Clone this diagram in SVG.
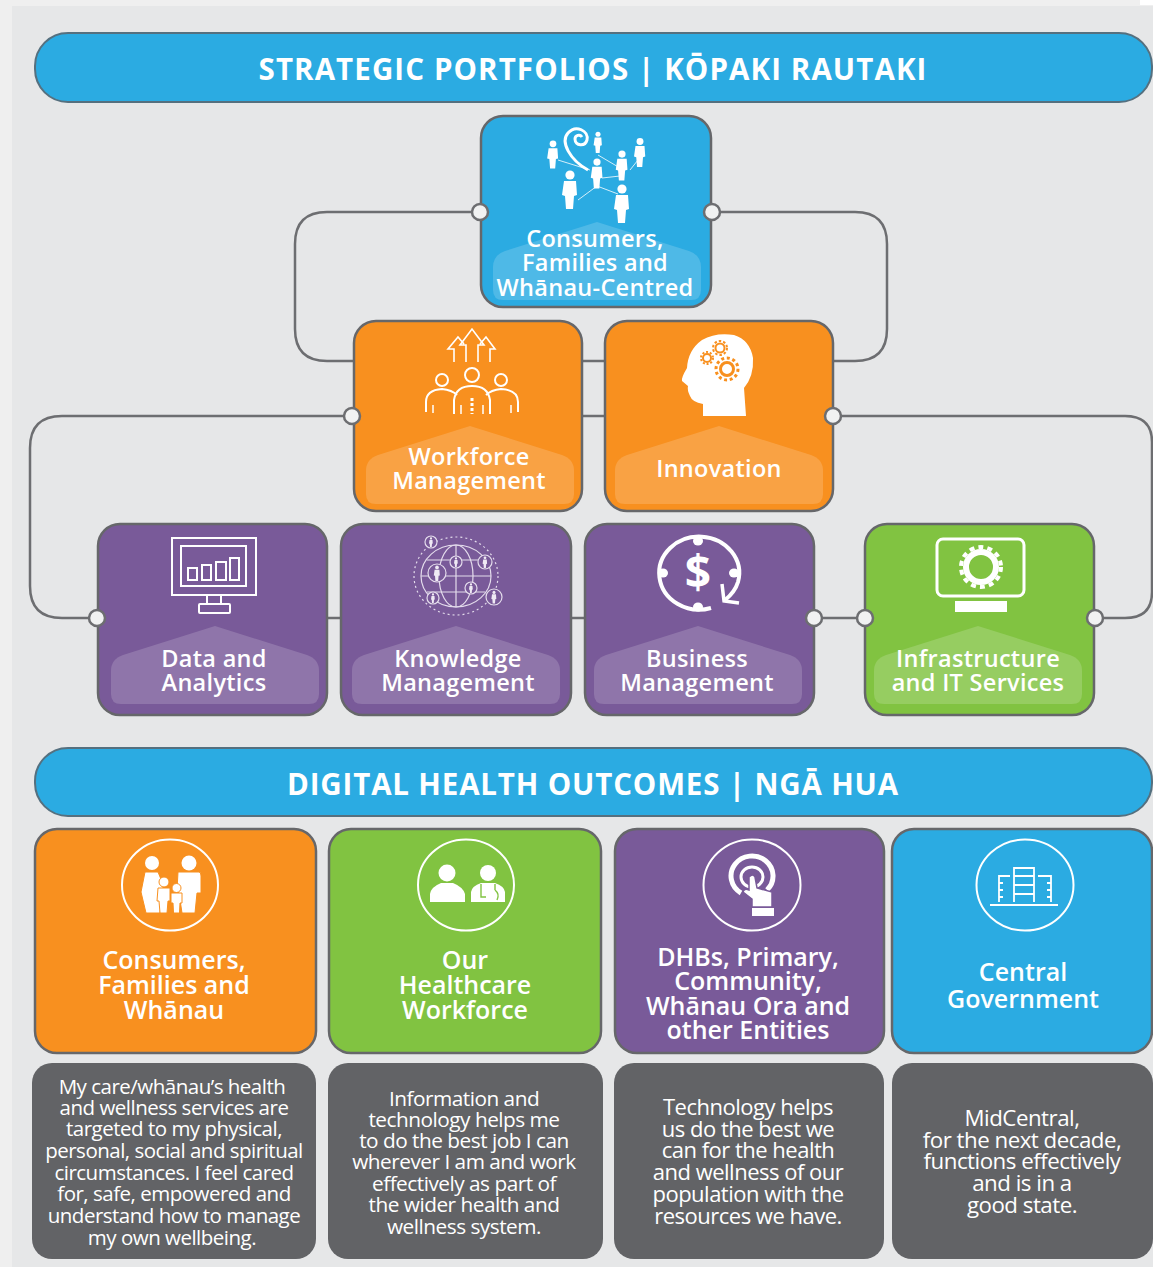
<svg xmlns="http://www.w3.org/2000/svg" width="1153" height="1267" viewBox="0 0 1153 1267">
<style>
text{font-family:"Open Sans","Noto Sans","Liberation Sans",sans-serif;font-weight:600;fill:#fff;text-anchor:middle}
.banner{stroke:#55707f;stroke-width:2;fill:#2babe2}
.title{font-size:29.5px;font-weight:700;letter-spacing:1.1px}
.card{stroke:#66676a;stroke-width:2.5}
.blue{fill:#2babe2}.orange{fill:#f8901f}.purple{fill:#795a99}.green{fill:#81c341}
.tab{fill:#fff;fill-opacity:.17}
.lbl{font-size:23.5px;letter-spacing:.3px}
.head{font-size:25px}
.note{fill:#626366}
.body{font-size:20.5px;font-weight:400;letter-spacing:-.5px}
.b21{font-size:20.8px}
.b22{font-size:22px}
.b23{font-size:22.3px}
.line{fill:none;stroke:#6d6e71;stroke-width:2.5}
.port{fill:#f1f2f2;stroke:#6d6e71;stroke-width:2.5}
.ic{fill:none;stroke:#fff;stroke-width:2}
.icf{fill:#fff}
.ring{fill:none;stroke:#fff;stroke-width:2}
.kn{fill:#795a99;stroke:#e4dcec;stroke-width:1.2}
.kp{fill:#efeaf4}
</style>
<defs>
<g id="person"><circle cx="0" cy="-14" r="4.6"/><path d="M-6-8h12l1 14-3 1-1 13h-7l-1-13-3-1z"/></g>
<path id="tabshape" d="M0 0 L-92 29 Q-104 33-104 45 V68 Q-104 78-94 78 H94 Q104 78 104 68 V45 Q104 33 92 29Z"/>
</defs>
<rect width="1153" height="1267" fill="#e6e7e8"/>
<rect width="12" height="1267" fill="#efefef"/>
<rect width="1153" height="6" fill="#efefef"/>
<rect x="1140" width="13" height="5" fill="#fff"/>

<g id="connectors">
<path class="line" d="M480 212H327Q295 212 295 244V329Q295 361 327 361H354"/>
<path class="line" d="M712 212H855Q887 212 887 244V329Q887 361 855 361H834"/>
<path class="line" d="M583 361H605"/>
<path class="line" d="M352 416H62Q30 416 30 448V586Q30 618 62 618H97"/>
<path class="line" d="M833 416H1125Q1152 416 1152 442V592Q1152 618 1125 618H1095"/>
<path class="line" d="M583 416H605"/>
<path class="line" d="M328 618H341"/>
<path class="line" d="M572 618H585"/>
<path class="line" d="M815 618H865"/>
</g>

<g id="banner-portfolios">
<rect class="banner" x="35" y="33" width="1117" height="69" rx="33"/>
<text class="title" x="593" y="80">STRATEGIC PORTFOLIOS | KŌPAKI RAUTAKI</text>
</g>

<g id="node-consumers">
<rect class="card blue" x="481" y="116" width="230" height="191" rx="22"/>
<use href="#tabshape" x="597" y="222" class="tab"/>
<g class="icf">
<use href="#person" transform="translate(553 154) scale(.73)"/><use href="#person" transform="translate(598 142) scale(.55)"/>
<use href="#person" transform="translate(640 152) scale(.75)"/><use href="#person" transform="translate(622 165) scale(.78)"/>
<use href="#person" transform="translate(597 173) scale(.78)"/><use href="#person" transform="translate(570 189)"/>
<use href="#person" transform="translate(622 203)"/>
</g>
<path d="M588 170C570 160 560 142 568 133C576 124 589 131 587 140C585 147 575 146 575 139C575 135 580 134 582 137" fill="none" stroke="#fff" stroke-width="3"/>
<path d="M558 160L590 170M598 155L620 168M630 170L638 160M578 200L597 186L618 194M602 178L620 176" fill="none" stroke="#fff" stroke-width=".8"/>
<text class="lbl"><tspan x="595" y="247">Consumers,</tspan><tspan x="595" y="271">Families and</tspan><tspan x="595" y="296">Whānau-Centred</tspan></text>
</g>

<g id="node-workforce">
<rect class="card orange" x="354" y="321" width="228" height="190" rx="22"/>
<use href="#tabshape" x="470" y="426" class="tab"/>
<g class="ic">
<path d="M454 362V349H448L458 337L464 344M490 362V349H495L486 337L480 344M466 362V345H460L472 329L484 345H478V362" stroke-width="1.6"/>
<circle cx="442" cy="380" r="6"/><circle cx="472" cy="375" r="7"/><circle cx="501" cy="380" r="6"/>
<path d="M426 412V402Q426 390 442 389Q452 390 457 395M518 412V402Q518 390 501 389Q491 390 486 395M454 414V400Q456 386 472 386Q488 386 490 400V414"/>
<path d="M472 398V414" stroke-dasharray="3 2" stroke-width="3"/>
<path d="M433 405V413M511 405V413M461 405V414M483 405V414" stroke-width="1.5"/>
</g>
<text class="lbl"><tspan x="469" y="465">Workforce</tspan><tspan x="469" y="489">Management</tspan></text>
</g>

<g id="node-innovation">
<rect class="card orange" x="605" y="321" width="228" height="190" rx="22"/>
<use href="#tabshape" x="719" y="426" class="tab"/>
<path class="icf" d="M703 416V404Q692 402 690 396Q687 390 688 386L682 381Q681 378 687 368Q688 350 702 340Q716 332 734 335Q750 340 753 358Q754 376 744 388L746 416Z"/>
<g fill="none" stroke="#f8901f">
<circle cx="720" cy="348" r="4.5" stroke-width="2"/><circle cx="720" cy="348" r="7" stroke-width="2" stroke-dasharray="2.5 2"/>
<circle cx="707" cy="358" r="4" stroke-width="2"/><circle cx="707" cy="358" r="6" stroke-width="2" stroke-dasharray="2 1.8"/>
<circle cx="727" cy="369" r="6.5" stroke-width="3"/><circle cx="727" cy="369" r="11" stroke-width="3" stroke-dasharray="3 2.7"/>
</g>
<text class="lbl" x="719" y="477">Innovation</text>
</g>

<g id="node-data">
<rect class="card purple" x="98" y="524" width="229" height="191" rx="22"/>
<use href="#tabshape" x="215" y="626" class="tab"/>
<g class="ic">
<rect x="172" y="538" width="84" height="57"/>
<rect x="181" y="546" width="65" height="40"/>
<rect x="188" y="568" width="9" height="12"/><rect x="202" y="565" width="9" height="15"/><rect x="216" y="562" width="10" height="18"/><rect x="230" y="558" width="9" height="22"/>
<path d="M207 595V604M221 595V604"/><rect x="199" y="604" width="31" height="9" rx="1"/>
</g>
<text class="lbl"><tspan x="214" y="667">Data and</tspan><tspan x="214" y="691">Analytics</tspan></text>
</g>

<g id="node-knowledge">
<rect class="card purple" x="341" y="524" width="230" height="191" rx="22"/>
<use href="#tabshape" x="456" y="626" class="tab"/>
<g fill="none" stroke="#e4dcec" stroke-width="1.2">
<ellipse cx="456" cy="576" rx="35" ry="31"/><ellipse cx="456" cy="576" rx="17" ry="31"/><path d="M421 576H491M427 560H485M427 592H485M456 545V607"/>
<ellipse cx="456" cy="576" rx="42" ry="39" stroke-dasharray="2 3"/>
</g>
<circle class="kn" cx="431" cy="542" r="6"/><circle class="kn" cx="456" cy="562" r="6"/><circle class="kn" cx="485" cy="562" r="7"/><circle class="kn" cx="437" cy="573" r="9"/><circle class="kn" cx="471" cy="588" r="6"/><circle class="kn" cx="433" cy="598" r="6"/><circle class="kn" cx="494" cy="597" r="8"/>
<g class="kp">
<use href="#person" transform="translate(431 542) scale(.25)"/><use href="#person" transform="translate(456 562) scale(.25)"/><use href="#person" transform="translate(485 562) scale(.3)"/><use href="#person" transform="translate(437 573) scale(.4)"/><use href="#person" transform="translate(471 588) scale(.25)"/><use href="#person" transform="translate(433 598) scale(.25)"/><use href="#person" transform="translate(494 597) scale(.33)"/>
</g>
<text class="lbl"><tspan x="458" y="667">Knowledge</tspan><tspan x="458" y="691">Management</tspan></text>
</g>

<g id="node-business">
<rect class="card purple" x="585" y="524" width="229" height="191" rx="22"/>
<use href="#tabshape" x="698" y="626" class="tab"/>
<path d="M711 608A40 36.5 0 1 1 738 582Q735 592 725 600" fill="none" stroke="#fff" stroke-width="4"/>
<path d="M722 584L724 601L739 603" fill="none" stroke="#fff" stroke-width="3.5"/>
<g class="icf"><ellipse cx="698" cy="541" rx="5" ry="4.5"/><ellipse cx="663" cy="573" rx="5" ry="4.5"/><ellipse cx="734" cy="573" rx="5" ry="4.5"/><ellipse cx="698" cy="607" rx="5" ry="4.5"/></g>
<text x="698" y="589" style="font-size:46px;font-weight:700">$</text>
<text class="lbl"><tspan x="697" y="667">Business</tspan><tspan x="697" y="691">Management</tspan></text>
</g>

<g id="node-infrastructure">
<rect class="card green" x="865" y="524" width="229" height="191" rx="22"/>
<use href="#tabshape" x="978" y="626" class="tab"/>
<rect x="937" y="539" width="87" height="57" rx="6" fill="none" stroke="#fff" stroke-width="3"/>
<rect x="955" y="601" width="52" height="11" fill="#fff"/>
<circle cx="981" cy="567" r="15" fill="none" stroke="#fff" stroke-width="6"/>
<circle cx="981" cy="567" r="20" fill="none" stroke="#fff" stroke-width="4" stroke-dasharray="5 4.1"/>
<text class="lbl"><tspan x="978" y="667">Infrastructure</tspan><tspan x="978" y="691">and IT Services</tspan></text>
</g>

<g id="ports">
<circle class="port" cx="480" cy="212" r="8"/><circle class="port" cx="712" cy="212" r="8"/>
<circle class="port" cx="352" cy="416" r="8"/><circle class="port" cx="833" cy="416" r="8"/>
<circle class="port" cx="97" cy="618" r="8"/><circle class="port" cx="814" cy="618" r="8"/>
<circle class="port" cx="865" cy="618" r="8"/><circle class="port" cx="1095" cy="618" r="8"/>
</g>

<g id="banner-outcomes">
<rect class="banner" x="35" y="748" width="1117" height="68" rx="33"/>
<text class="title" x="593" y="795" style="letter-spacing:.85px">DIGITAL HEALTH OUTCOMES | NGĀ HUA</text>
</g>

<g id="outcome-consumers">
<rect class="card orange" x="35" y="829" width="281" height="224" rx="22"/>
<ellipse class="ring" cx="170" cy="885" rx="48" ry="45.5"/>
<g class="icf" stroke="#f8901f" stroke-width="1">
<circle cx="152" cy="863" r="7" stroke="none"/><path d="M145 872H158L163 884V893L160 913H146L141 892Z"/>
<circle cx="189" cy="863" r="7.5" stroke="none"/><path d="M178 872H199Q201 872 201 876V893H197L195 913H182L179 893L177 890Z"/>
<circle cx="164" cy="882" r="5"/><path d="M158 888H170V901H168L167 913H160L159 901H157Z"/>
<circle cx="176.500" cy="888" r="4.500"/><path d="M171 893H182V903H180L179.500 913H173.500L173 903H171Z"/>
</g>
<text class="head"><tspan x="174" y="969">Consumers,</tspan><tspan x="174" y="994">Families and</tspan><tspan x="174" y="1019">Whānau</tspan></text>
</g>

<g id="outcome-workforce">
<rect class="card green" x="329" y="829" width="272" height="224" rx="22"/>
<ellipse class="ring" cx="466" cy="885" rx="48" ry="45.5"/>
<g class="icf">
<circle cx="447" cy="873" r="8.500"/><path d="M430 902V894Q431 887 441 883H453Q463 887 465 894V902Z"/>
<circle cx="488" cy="873" r="8"/><path d="M471 902V892Q472 886 481 883H495Q504 886 505 892V902Z"/>
</g>
<path d="M481 884V897H486M495 884V890M495 890Q500 894 497 900" stroke="#81c341" stroke-width="1.400" fill="none"/>
<text class="head"><tspan x="465" y="969">Our</tspan><tspan x="465" y="994">Healthcare</tspan><tspan x="465" y="1019">Workforce</tspan></text>
</g>

<g id="outcome-dhbs">
<rect class="card purple" x="615" y="829" width="269" height="224" rx="22"/>
<ellipse class="ring" cx="752" cy="885" rx="48.500" ry="45.500"/>
<path d="M741 893A21 20 0 1 1 767 890" fill="none" stroke="#fff" stroke-width="5"/>
<ellipse cx="752" cy="877" rx="11" ry="10" fill="none" stroke="#fff" stroke-width="3"/>
<path class="icf" stroke="#795a99" stroke-width="1.500" d="M749 877Q753 873 755 877L757 888L772 892V907H752V899L743 892Q744 888 749 890Z"/>
<rect x="752" y="908" width="22" height="8" fill="#fff"/>
<text class="head"><tspan x="748" y="966">DHBs, Primary,</tspan><tspan x="748" y="990">Community,</tspan><tspan x="748" y="1015">Whānau Ora and</tspan><tspan x="748" y="1039">other Entities</tspan></text>
</g>

<g id="outcome-government">
<rect class="card blue" x="892" y="829" width="260" height="224" rx="22"/>
<ellipse class="ring" cx="1025" cy="885" rx="48.500" ry="45.500"/>
<g fill="none" stroke="#fff" stroke-width="1.800">
<path d="M1014 902V868H1034V902M1014 876H1034M1014 885H1034M1014 894H1034"/>
<path d="M1010 876H999V902M1003 883H999M1003 890H999M1003 897H999"/>
<path d="M1038 876H1051V902M1047 883H1051M1047 890H1051M1047 897H1051"/>
<path d="M990 905H1058"/>
</g>
<text class="head"><tspan x="1023" y="981">Central</tspan><tspan x="1023" y="1008">Government</tspan></text>
</g>

<g id="note-consumers">
<rect class="note" x="32" y="1063" width="284" height="196" rx="20"/>
<text class="body"><tspan x="172" y="1094">My care/whānau’s health</tspan><tspan x="174" y="1115">and wellness services are</tspan><tspan x="174" y="1136">targeted to my physical,</tspan><tspan x="174" y="1158">personal, social and spiritual</tspan><tspan x="174" y="1180">circumstances. I feel cared</tspan><tspan x="174" y="1201">for, safe, empowered and</tspan><tspan x="174" y="1223">understand how to manage</tspan><tspan x="172" y="1245">my own wellbeing.</tspan></text>
</g>

<g id="note-workforce">
<rect class="note" x="328" y="1063" width="275" height="196" rx="20"/>
<text class="body b21"><tspan x="464" y="1106">Information and</tspan><tspan x="464" y="1127">technology helps me</tspan><tspan x="464" y="1148">to do the best job I can</tspan><tspan x="464" y="1169">wherever I am and work</tspan><tspan x="464" y="1191">effectively as part of</tspan><tspan x="464" y="1212">the wider health and</tspan><tspan x="464" y="1234">wellness system.</tspan></text>
</g>

<g id="note-dhbs">
<rect class="note" x="614" y="1063" width="270" height="196" rx="20"/>
<text class="body b22"><tspan x="748" y="1115">Technology helps</tspan><tspan x="748" y="1137">us do the best we</tspan><tspan x="748" y="1158">can for the health</tspan><tspan x="748" y="1180">and wellness of our</tspan><tspan x="748" y="1202">population with the</tspan><tspan x="748" y="1224">resources we have.</tspan></text>
</g>

<g id="note-government">
<rect class="note" x="892" y="1063" width="261" height="196" rx="20"/>
<text class="body b23"><tspan x="1022" y="1126">MidCentral,</tspan><tspan x="1022" y="1148">for the next decade,</tspan><tspan x="1022" y="1169">functions effectively</tspan><tspan x="1022" y="1191">and is in a</tspan><tspan x="1022" y="1213">good state.</tspan></text>
</g>
</svg>
